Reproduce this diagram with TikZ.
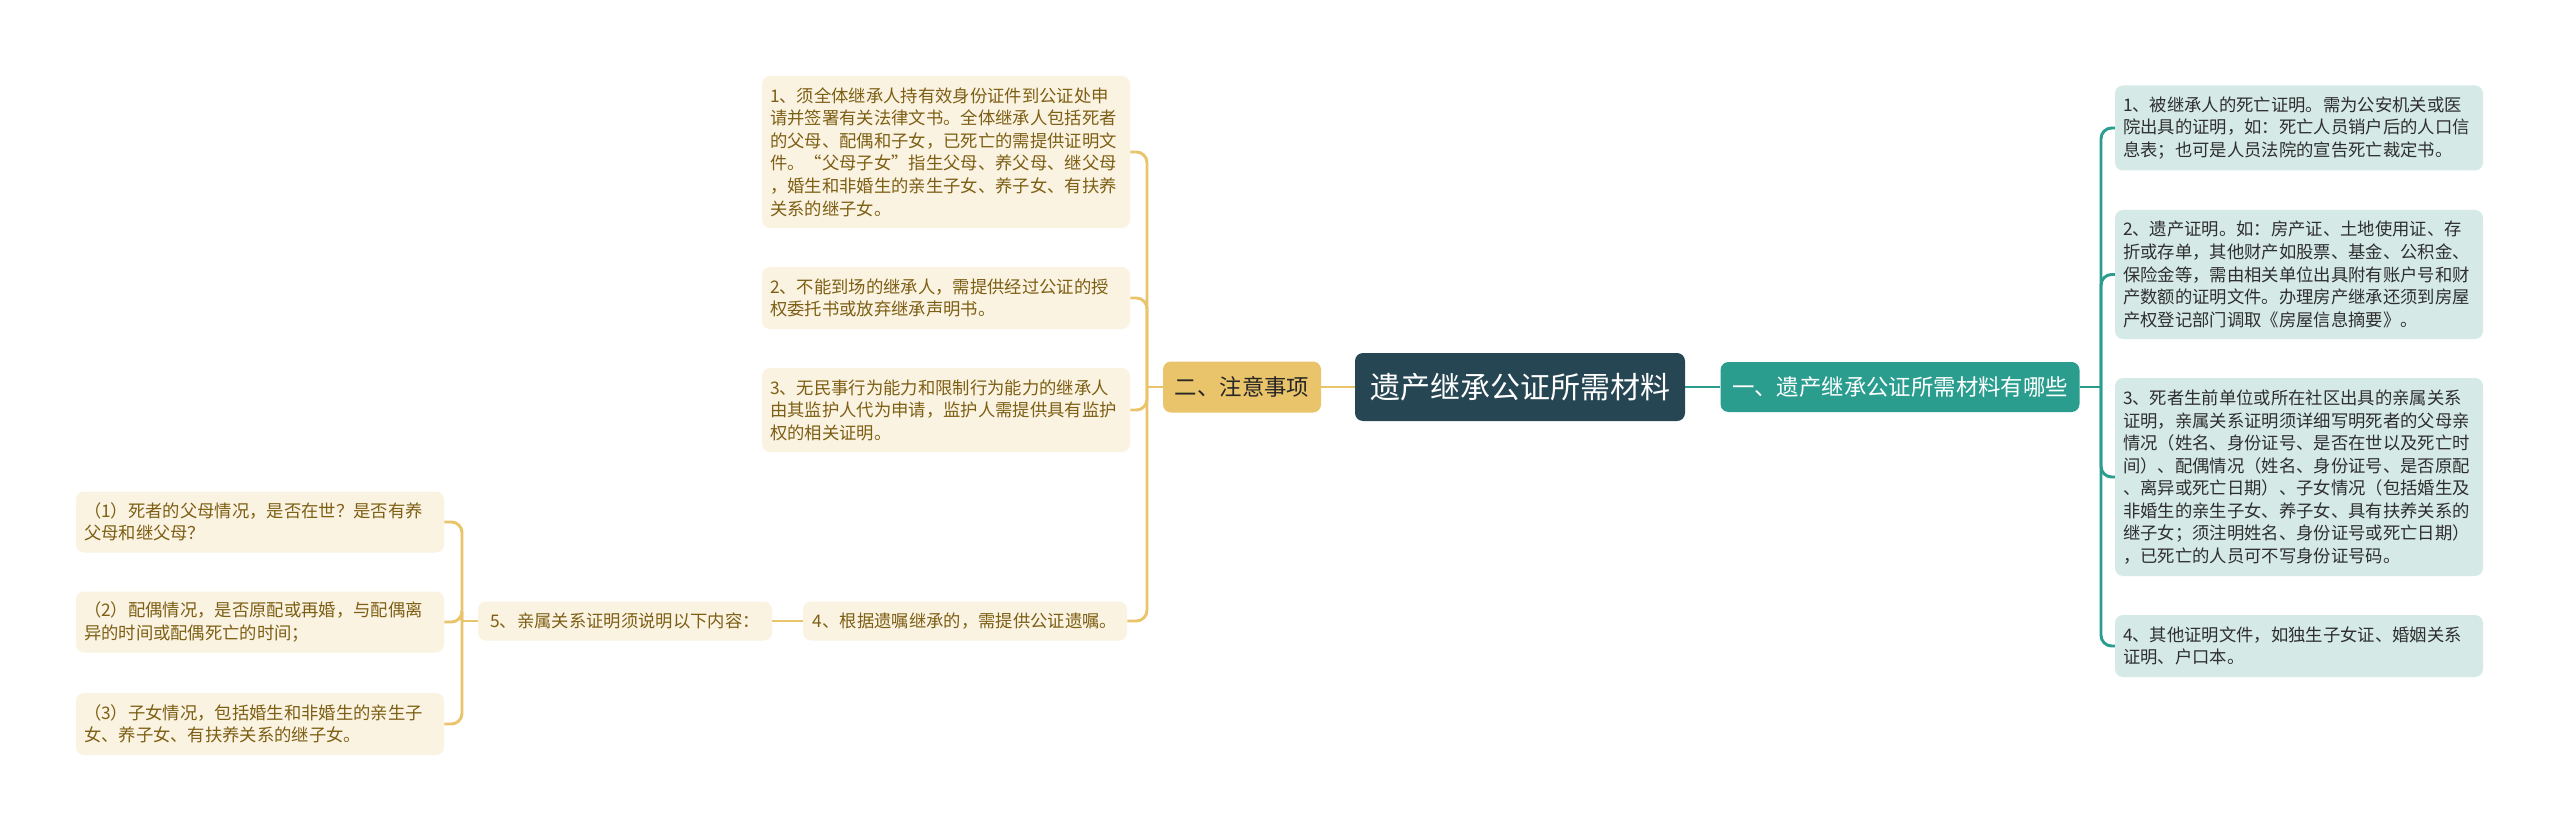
\documentclass[tikz,border=0pt]{standalone}
\usepackage{fontspec}
\newfontfamily\cjk{Noto Sans CJK SC}
\definecolor{cdark}{HTML}{264653}
\definecolor{cteal}{HTML}{2A9D8F}
\definecolor{cgold}{HTML}{E9C46A}
\definecolor{clteal}{HTML}{D5EAE7}
\definecolor{ccream}{HTML}{FBF3E2}
\definecolor{cbrown}{HTML}{7D5F14}
\definecolor{cgray}{HTML}{2E2E2E}
\tikzset{
  base/.style={rounded corners=6pt, inner sep=0pt},
  rootbox/.style={base, fill=cdark, text=white, minimum width=247.5pt, minimum height=51pt,
    font=\cjk\fontsize{22.5pt}{27pt}\selectfont},
  rbranch/.style={base, fill=cteal, text=white, minimum height=37.5pt,
    font=\cjk\fontsize{16.8pt}{20pt}\selectfont},
  lbranch/.style={base, fill=cgold, text=black!85, minimum height=38.25pt,
    font=\cjk\fontsize{16.8pt}{20pt}\selectfont},
  rleaf/.style={base, fill=clteal, text=cgray, text width=264pt, align=left, inner xsep=6pt,
    font=\cjk\fontsize{13pt}{16.9pt}\selectfont},
  lleaf/.style={base, fill=ccream, text=cbrown, text width=264pt, align=left, inner xsep=6pt,
    font=\cjk\fontsize{13pt}{16.9pt}\selectfont},
  sleaf/.style={base, fill=ccream, text=cbrown, align=center, minimum height=29.25pt,
    font=\cjk\fontsize{13pt}{16.9pt}\selectfont},
  tline/.style={draw=cteal, line width=2.2pt, rounded corners=8pt},
  gline/.style={draw=cgold, line width=2.2pt, rounded corners=8pt},
}
\begin{document}
\begin{tikzpicture}[x=0.75pt, y=-0.75pt]
\useasboundingbox (0,0) rectangle (2560,831);

\node[rootbox] (root) at (1520,387) {遗产继承公证所需材料};
\node[rbranch, minimum width=269.25pt] (rb) at (1900,387) {一、遗产继承公证所需材料有哪些};
\node[lbranch, minimum width=118.5pt] (lb) at (1242,387) {二、注意事项};

% right leaves
\node[rleaf, minimum height=63.75pt] (r1) at (2299,128) {1、被继承人的死亡证明。需为公安机关或医\\院出具的证明，如：死亡人员销户后的人口信\\息表；也可是人员法院的宣告死亡裁定书。};
\node[rleaf, minimum height=96.75pt] (r2) at (2299,274.5) {2、遗产证明。如：房产证、土地使用证、存\\折或存单，其他财产如股票、基金、公积金、\\保险金等，需由相关单位出具附有账户号和财\\产数额的证明文件。办理房产继承还须到房屋\\产权登记部门调取《房屋信息摘要》。};
\node[rleaf, minimum height=148.5pt] (r3) at (2299,477) {3、死者生前单位或所在社区出具的亲属关系\\证明，亲属关系证明须详细写明死者的父母亲\\情况（姓名、身份证号、是否在世以及死亡时\\间）、配偶情况（姓名、身份证号、是否原配\\、离异或死亡日期）、子女情况（包括婚生及\\非婚生的亲生子女、养子女、具有扶养关系的\\继子女；须注明姓名、身份证号或死亡日期）\\，已死亡的人员可不写身份证号码。};
\node[rleaf, minimum height=46.5pt] (r4) at (2299,646) {4、其他证明文件，如独生子女证、婚姻关系\\证明、户口本。};

% middle leaves
\node[lleaf, minimum height=114pt] (m1) at (946,152) {1、须全体继承人持有效身份证件到公证处申\\请并签署有关法律文书。全体继承人包括死者\\的父母、配偶和子女，已死亡的需提供证明文\\件。“父母子女”指生父母、养父母、继父母\\，婚生和非婚生的亲生子女、养子女、有扶养\\关系的继子女。};
\node[lleaf, minimum height=46.5pt] (m2) at (946,298) {2、不能到场的继承人，需提供经过公证的授\\权委托书或放弃继承声明书。};
\node[lleaf, minimum height=63pt] (m3) at (946,410) {3、无民事行为能力和限制行为能力的继承人\\由其监护人代为申请，监护人需提供具有监护\\权的相关证明。};
\node[sleaf, minimum width=243pt] (m4) at (965,621) {4、根据遗嘱继承的，需提供公证遗嘱。};
\node[sleaf, minimum width=220.5pt] (n5) at (625,621) {5、亲属关系证明须说明以下内容：};

% left leaves
\node[lleaf, minimum height=45.75pt] (l1) at (260,522) {（1）死者的父母情况，是否在世？是否有养\\父母和继父母？};
\node[lleaf, minimum height=45.75pt] (l2) at (260,622) {（2）配偶情况，是否原配或再婚，与配偶离\\异的时间或配偶死亡的时间；};
\node[lleaf, minimum height=46.5pt] (l3) at (260,724) {（3）子女情况，包括婚生和非婚生的亲生子\\女、养子女、有扶养关系的继子女。};

% junctions
\coordinate (jr) at (2101,387);
\coordinate (jl) at (1147,387);
\coordinate (jn) at (462,621);

% connectors right
\draw[tline] (root.east) -- (rb.west);
\draw[tline] (rb.east) -- (jr);
\foreach \n in {r1,r2,r3,r4} \draw[tline] (jr) |- (\n.west);

% connectors left
\draw[gline] (root.west) -- (lb.east);
\draw[gline] (lb.west) -- (jl);
\foreach \n in {m1,m2,m3,m4} \draw[gline] (jl) |- (\n.east);
\draw[gline] (m4.west) -- (n5.east);
\draw[gline] (n5.west) -- (jn);
\foreach \n in {l1,l2,l3} \draw[gline] (jn) |- (\n.east);
\end{tikzpicture}
\end{document}
